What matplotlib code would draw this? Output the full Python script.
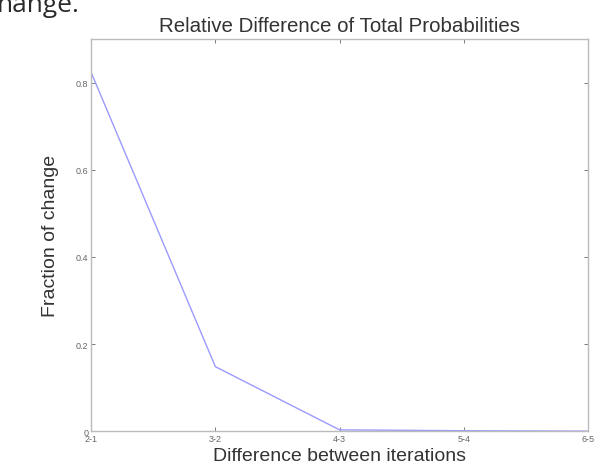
import matplotlib
matplotlib.use("Agg")
import matplotlib.pyplot as plt

# data
diffs = ["2-1", "3-2", "4-3", "5-4", "6-5"]
frac_change = [0.823, 0.148, 0.003, 0.001, 0.0]
yticks = [0, 0.2, 0.4, 0.6, 0.8]

plt.rcParams["font.family"] = ["Liberation Sans", "DejaVu Sans"]

fig = plt.figure(figsize=(6.08, 4.77), dpi=100)
ax = fig.add_axes([0.150, 0.094, 0.817, 0.822])

xs = range(1, len(diffs) + 1)
ax.plot(xs, frac_change, color="#9a9aff", lw=1.0)

ax.set_xlim(1, len(diffs))
ax.set_ylim(0, 0.9)
ax.set_xticks(list(xs))
ax.set_xticklabels(diffs)
ax.set_yticks(yticks)
ax.set_yticklabels(["0", "0.2", "0.4", "0.6", "0.8"])
ax.tick_params(labelsize=6.5, colors="#666666", direction="in", length=3,
               width=0.6, top=True, right=True, pad=2)
for s in ax.spines.values():
    s.set_color("#bbbbbb")
    s.set_linewidth(1.0)

ax.set_title("Relative Difference of Total Probabilities", fontsize=14.8,
             color="#333333", pad=6)
ax.set_xlabel("Difference between iterations", fontsize=14,
              color="#333333", labelpad=3)
ax.set_ylabel("Fraction of change", fontsize=14, color="#333333",
              labelpad=12)

# cropped slide text in the corner
fig.text(-0.006, 1 - 12 / 477, "hange.", fontsize=19, family="Open Sans",
         color="#2a2a2a", va="baseline", ha="left")

fig.savefig("out.png", dpi=100)
